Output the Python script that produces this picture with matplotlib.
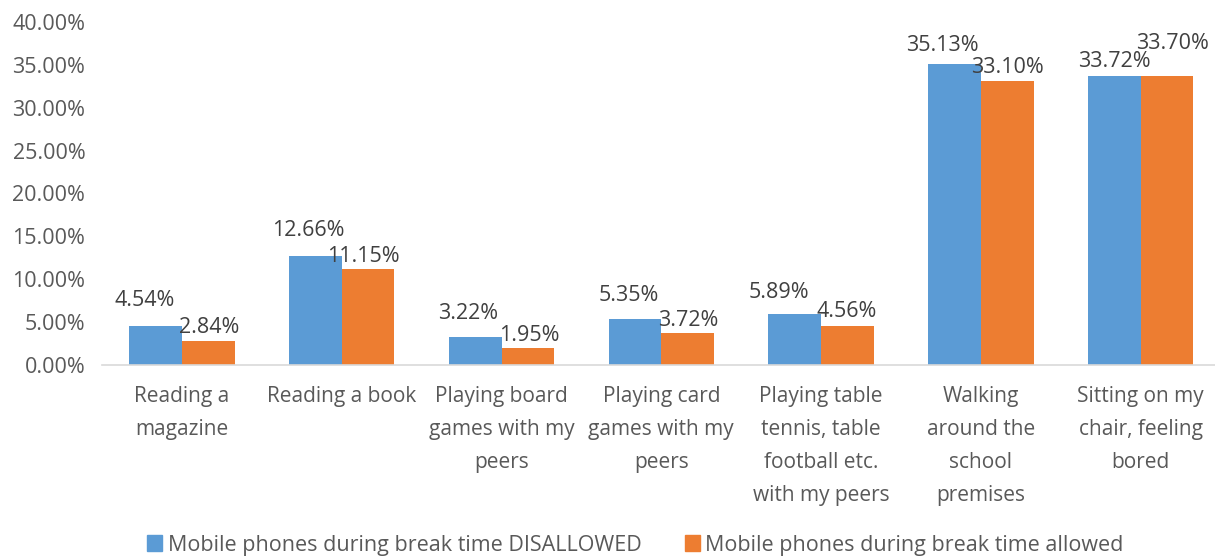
import matplotlib
matplotlib.use("Agg")
import matplotlib.pyplot as plt
from matplotlib.patches import Patch
import numpy as np

categories = [
    "Reading a\nmagazine",
    "Reading a book",
    "Playing board\ngames with my\npeers",
    "Playing card\ngames with my\npeers",
    "Playing table\ntennis, table\nfootball etc.\nwith my peers",
    "Walking\naround the\nschool\npremises",
    "Sitting on my\nchair, feeling\nbored",
]
disallowed = [4.54, 12.66, 3.22, 5.35, 5.89, 35.13, 33.72]
allowed = [2.84, 11.15, 1.95, 3.72, 4.56, 33.10, 33.70]
series_names = ["Mobile phones during break time DISALLOWED",
                "Mobile phones during break time allowed"]

# label offsets (pixels: dx, dy above bar top) mimicking Excel placement
blue_off = [(-11, 26), (-7, 26), (-7, 24), (-6, 24), (-16, 22), (-12, 18), (0, 14)]
orange_off = [(1, 13), (-5, 13), (1, 13), (1, 13), (-1, 14), (0, 14), (5, 33)]

BLUE = "#5B9BD5"
ORANGE = "#ED7D31"
TXT = "#595959"
LBL = "#404040"

plt.rcParams['font.family'] = ['Open Sans', 'DejaVu Sans']

W, H, DPI = 1215, 559, 100
fig = plt.figure(figsize=(W / DPI, H / DPI), dpi=DPI)
left_px, right_px = 102, 102 + 7 * 159.8
top_px, bot_px = 22, 365
ax = fig.add_axes([left_px / W, 1 - bot_px / H, (right_px - left_px) / W, (bot_px - top_px) / H])

x = np.arange(len(categories))
bw = 0.33
b1 = ax.bar(x - bw / 2, disallowed, bw, color=BLUE, label=series_names[0])
b2 = ax.bar(x + bw / 2, allowed, bw, color=ORANGE, label=series_names[1])

px2pt = 72 / DPI
for bars, vals, offs in ((b1, disallowed, blue_off), (b2, allowed, orange_off)):
    for rect, v, (dx, dy) in zip(bars, vals, offs):
        ax.annotate(f"{v:.2f}%", (rect.get_x() + rect.get_width() / 2, rect.get_height()),
                    xytext=(dx * px2pt, dy * px2pt), textcoords="offset points",
                    ha="center", va="center", fontsize=15.5, color=LBL)

ax.set_xlim(-0.5, len(categories) - 0.5)
ax.set_ylim(0, 40)
ax.set_yticks(np.arange(0, 41, 5))
ax.set_yticklabels([f"{t:.2f}%" for t in np.arange(0, 41, 5)], fontsize=15.5, color=TXT)
ax.set_xticks(x)
ax.set_xticklabels(categories, fontsize=15, color=TXT, linespacing=1.75, va="top")
ax.tick_params(axis="both", length=0)
ax.tick_params(axis="x", pad=15)
ax.tick_params(axis="y", pad=12)
for s in ["top", "right", "left"]:
    ax.spines[s].set_visible(False)
ax.spines["bottom"].set_color("#D9D9D9")
ax.spines["bottom"].set_linewidth(1.2)

handles = [Patch(color=BLUE), Patch(color=ORANGE)]
fig.legend(handles, series_names, loc="center", bbox_to_anchor=(0.523, 1 - 545 / H),
           ncol=2, frameon=False, fontsize=15.5, labelcolor=TXT,
           handlelength=0.7, handleheight=0.7, handletextpad=0.25, columnspacing=2.0)

fig.savefig("out.png", dpi=DPI)
